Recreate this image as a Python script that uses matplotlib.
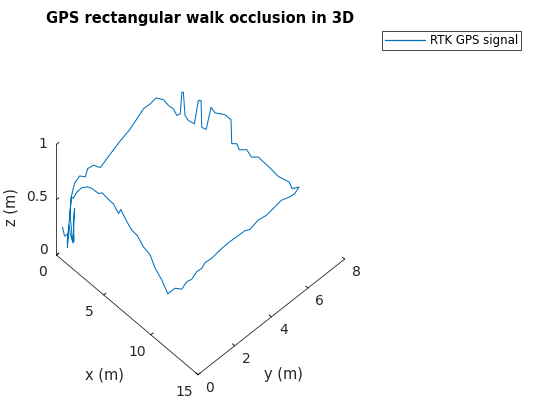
import matplotlib
matplotlib.use('Agg')
from matplotlib import pyplot as plt
from mpl_toolkits.mplot3d import proj3d

xs = [0.29, 0.41, 0.58, 0.58, 0.63, 0.72, 0.86, 0.93, 0.88, 0.9, 0.84, 0.71, 0.78, 0.92, 1.05, 1.1, 1.49, 1.67, 2.12, 2.25, 2.87, 3.36, 4.07, 3.93, 5.04, 5.83, 6.48, 7.5, 8.38, 9.47, 10.59, 11.8, 11.81, 12.21, 11.98, 12.08, 11.84, 11.88, 11.68, 11.74, 11.63, 11.58, 11.62, 11.65, 11.82, 11.64, 11.75, 11.63, 11.54, 11.75, 11.79, 11.58, 11.33, 10.75, 9.82, 8.83, 7.55, 7.22, 6.48, 6.11, 5.59, 5.33, 5.25, 4.62, 3.98, 3.7, 3.1, 2.73, 2.76, 2.62, 2.13, 1.61, 1.12, 0.96, 0.88, 0.76, 0.7, 0.45, 0.34, 0.43, 0.29, 0.37, 0.35, 0.6, 0.64, 0.58, 0.55, 0.52, 0.39, 0.3, 0.36, 0.37, 0.57, 0.78, 0.66, 0.56]
ys = [0.18, 0.23, 0.32, 0.3, 0.35, 0.39, 0.46, 0.51, 0.47, 0.5, 0.44, 0.37, 0.41, 0.44, 0.58, 0.83, 0.94, 1.08, 1.21, 1.33, 1.37, 1.39, 1.29, 1.49, 1.25, 1.11, 1.08, 0.88, 0.8, 0.5, 0.29, 0, 0.39, 0.55, 0.94, 1.16, 1.56, 1.81, 2.09, 2.42, 2.93, 3.41, 3.85, 4.28, 4.47, 5.01, 5.41, 5.92, 6.33, 6.68, 6.93, 7.27, 7.02, 7.16, 7.04, 7.09, 7.12, 6.93, 7.04, 6.83, 6.96, 6.82, 6.82, 6.82, 6.6, 6.53, 6.57, 6.52, 6.47, 6.39, 6.43, 6.37, 6.44, 6.43, 6.39, 6.36, 6.21, 6.15, 5.94, 5.62, 5.29, 4.92, 4.57, 3.9, 3.66, 3.09, 2.6, 2.13, 1.83, 1.55, 1.39, 1.08, 0.7, 0.41, 0.35, 0.3]
zs = [0.25, 0.17, 0.19, 0.07, 0.27, 0.19, 0.11, 0.42, 0.29, 0.12, 0.14, 0.38, 0.53, 0.52, 0.57, 0.58, 0.6, 0.58, 0.55, 0.55, 0.53, 0.52, 0.5, 0.5, 0.5, 0.5, 0.5, 0.5, 0.5, 0.5, 0.5, 0.5, 0.5, 0.5, 0.5, 0.5, 0.5, 0.5, 0.5, 0.5, 0.5, 0.5, 0.5, 0.5, 0.5, 0.5, 0.5, 0.5, 0.5, 0.5, 0.5, 0.5, 0.5, 0.5, 0.5, 0.5, 0.5, 0.5, 0.5, 0.5, 0.5, 0.5, 0.71, 0.71, 0.71, 0.75, 0.5, 0.5, 0.75, 0.75, 0.5, 0.5, 0.5, 0.7, 0.7, 0.5, 0.5, 0.55, 0.6, 0.7, 0.75, 0.75, 0.75, 0.72, 0.7, 0.65, 0.6, 0.55, 0.6, 0.6, 0.55, 0.6, 0.6, 0.53, 0.29, 0.11]

x_ticks = [0, 5, 10, 15]
y_ticks = [0, 2, 4, 6, 8]
z_ticks = [0, 0.5, 1]
z_labels = ['0', '0.5', '1']

text_col = '#262626'

fig = plt.figure(figsize=(5.6, 4.2), dpi=100)
ax = fig.add_axes([-0.152, 0.0062, 1, 1], projection='3d', proj_type='ortho')
ax.set_xlim(0, 15)
ax.set_ylim(0, 8)
ax.set_zlim(0, 1)
ax.view_init(elev=54.7, azim=-44)
ax.set_box_aspect((1, 1, 0.94), zoom=0.8)
line, = ax.plot(xs, ys, zs, lw=0.75, color='#0072BD', label='RTK GPS signal')

ax.grid(False)
ax.patch.set_alpha(0)
for axis in (ax.xaxis, ax.yaxis, ax.zaxis):
    axis.pane.set_visible(False)
    axis.line.set_color(text_col)
    axis.line.set_linewidth(0.6)
    axis._axinfo['tick'].update(inward_factor=0.0, outward_factor=0.2)
    axis._axinfo['tick']['linewidth'] = {True: 0.6, False: 0.6}
    axis._axinfo['tick']['color'] = text_col
ax.set_xticks(x_ticks)
ax.set_yticks(y_ticks)
ax.set_zticks(z_ticks)
ax.set_xticklabels([])
ax.set_yticklabels([])
ax.set_zticklabels([])
ax.zaxis.set_ticks_position('lower')


def put(x, y, z, s, **kw):
    # plain 2d text at a projected 3d spot
    a, b, _ = proj3d.proj_transform(x, y, z, ax.get_proj())
    ax.text2D(a, b, s, transform=ax.transData, va='center', color=text_col, **kw)


for t in x_ticks:
    put(t + 0.38, -0.96, 0, str(t), ha='center', fontsize=10)
for t in y_ticks:
    put(15 + 1.45, t - 0.1, 0, str(t), ha='center', fontsize=10)
for t, lab in zip(z_ticks, z_labels):
    put(-0.46, -0.25, t + 0.045 * (1 - t), lab, ha='right', fontsize=10)
put(10.2, -2.65, 0, 'x (m)', ha='center', fontsize=10.5)
put(19.38, 2.42, 0, 'y (m)', ha='center', fontsize=10.5)
put(-5.45, 0.31, 0, 'z (m)', ha='center', fontsize=10.5, rotation=90)

fig.text(200 / 560, 1 - 18 / 420, 'GPS rectangular walk occlusion in 3D', ha='center', va='center',
         fontsize=10.5, fontweight='bold', color='black')
leg = fig.legend(handles=[line], loc='upper left', bbox_to_anchor=(382 / 560, 1 - 31.5 / 420), fontsize=8.5,
                 frameon=True, fancybox=False, edgecolor='#262626', framealpha=1, borderaxespad=0,
                 borderpad=0.25, handlelength=3.4, handletextpad=0.4, labelcolor='black')
leg.get_frame().set_linewidth(0.6)
leg.get_lines()[0].set_linewidth(0.9)

fig.savefig('out.png', dpi=100)
